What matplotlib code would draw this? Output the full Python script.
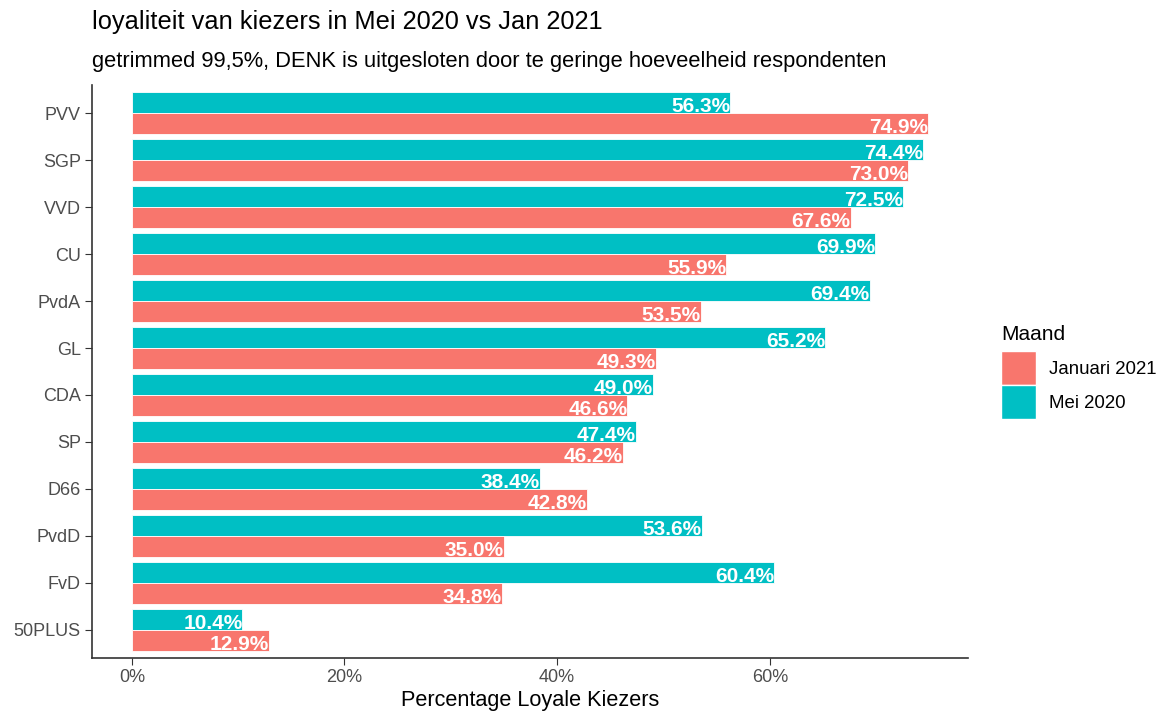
import numpy as np
import matplotlib.pyplot as plt
from matplotlib.patches import Patch

plt.rcParams["font.family"] = ["Liberation Sans", "DejaVu Sans"]

# data (top to bottom as drawn)
parties = ["PVV", "SGP", "VVD", "CU", "PvdA", "GL", "CDA", "SP", "D66", "PvdD", "FvD", "50PLUS"]
mei_2020 = [56.3, 74.4, 72.5, 69.9, 69.4, 65.2, 49.0, 47.4, 38.4, 53.6, 60.4, 10.4]
jan_2021 = [74.9, 73.0, 67.6, 55.9, 53.5, 49.3, 46.6, 46.2, 42.8, 35.0, 34.8, 12.9]
x_ticks = [0, 20, 40, 60]

COL_JAN = "#F8766D"
COL_MEI = "#00BFC4"

fig = plt.figure(figsize=(11.58, 7.13), dpi=100)
ax = fig.add_axes([92 / 1158, 1 - 658 / 713, (968 - 92) / 1158, (658 - 85) / 713])

n = len(parties)
y = np.arange(n)[::-1] + 1  # PVV on top
h = 0.45

ax.barh(y + h / 2, mei_2020, height=h, color=COL_MEI, edgecolor="white", linewidth=0.6)
ax.barh(y - h / 2, jan_2021, height=h, color=COL_JAN, edgecolor="white", linewidth=0.6)

for yi, m, j in zip(y, mei_2020, jan_2021):
    ax.text(m, yi + h / 2 - 0.08, f"{m:.1f}%", ha="right", va="center",
            color="white", fontsize=15, fontweight="bold")
    ax.text(j, yi - h / 2 - 0.08, f"{j:.1f}%", ha="right", va="center",
            color="white", fontsize=15, fontweight="bold")

ax.set_xlim(-3.745, 78.645)
ax.set_ylim(0.4, n + 0.6)
ax.set_yticks(y)
ax.set_yticklabels(parties)
ax.set_xticks(x_ticks)
ax.set_xticklabels([f"{t}%" for t in x_ticks])
ax.tick_params(colors="#333333", labelcolor="#4D4D4D", labelsize=13, length=5, pad=3)
for s in ["top", "right"]:
    ax.spines[s].set_visible(False)
for s in ["left", "bottom"]:
    ax.spines[s].set_color("#333333")
    ax.spines[s].set_linewidth(1.2)

ax.set_xlabel("Percentage Loyale Kiezers", fontsize=15.6, color="black", labelpad=3)

fig.text(92 / 1158, 1 - 22 / 713, "loyaliteit van kiezers in Mei 2020 vs Jan 2021",
         fontsize=18.3, va="center", ha="left")
fig.text(92 / 1158, 1 - 62 / 713,
         "getrimmed 99,5%, DENK is uitgesloten door te geringe hoeveelheid respondenten",
         fontsize=15.75, va="center", ha="left")

handles = [Patch(facecolor=COL_JAN, edgecolor="white"), Patch(facecolor=COL_MEI, edgecolor="white")]
leg = fig.legend(handles, ["Januari 2021", "Mei 2020"], title="Maand",
                 loc="upper left", bbox_to_anchor=(1001 / 1158, 1 - 325 / 713),
                 frameon=False, fontsize=13.4, title_fontsize=15,
                 handlelength=1.9, handleheight=2.45, handletextpad=0.7,
                 labelspacing=0.0, borderaxespad=0, borderpad=0)
leg._legend_box.align = "left"
leg._legend_box.sep = 5

fig.savefig("out.png", dpi=100)
